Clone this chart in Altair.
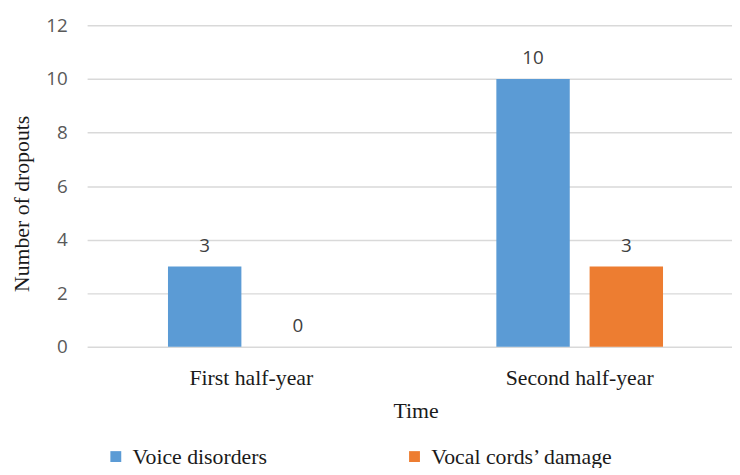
import altair as alt
import pandas as pd

periods = ["First half-year", "Second half-year"]
series = ["Voice disorders", "Vocal cords\u2019 damage"]
voice = [3, 10]
cords = [0, 3]
colors = ["#5B9BD5", "#ED7D31"]

rows = []
for i, p in enumerate(periods):
    rows.append({"Time": p, "Series": series[0], "Value": voice[i]})
    rows.append({"Time": p, "Series": series[1], "Value": cords[i]})
df = pd.DataFrame(rows)

serif = "Liberation Serif"
sans = "Open Sans"

base = alt.Chart(df).encode(
    x=alt.X("Time:N", sort=periods,
            scale=alt.Scale(paddingInner=0, paddingOuter=0, range=[0, 664]),
            axis=alt.Axis(title="Time", labelAngle=0, labelFont=serif, labelFontSize=22,
                          labelColor="#1a1a1a", labelPadding=21, titleFont=serif,
                          titleFontSize=22, titleFontWeight="normal", titleColor="#1a1a1a",
                          titlePadding=12, ticks=False, domain=False, grid=False)),
    xOffset=alt.XOffset("Series:N", sort=series,
                        scale=alt.Scale(paddingInner=0.2128, paddingOuter=0.867)),
)

bars = base.mark_bar().encode(
    y=alt.Y("Value:Q", scale=alt.Scale(domain=[0, 12]),
            axis=alt.Axis(title="Number of dropouts", values=[0, 2, 4, 6, 8, 10, 12],
                          labelFont=sans, labelFontSize=19, labelColor="#595959",
                          labelPadding=20, titleFont=serif, titleFontSize=22,
                          titleFontWeight="normal", titleColor="#1a1a1a",
                          titleX=-66, titleY=180, titleAngle=270, titleAlign="center",
                          titleBaseline="middle",
                          gridColor="#d9d9d9", gridWidth=1.5, ticks=False, domain=False)),
    color=alt.Color("Series:N", sort=series,
                    scale=alt.Scale(domain=series, range=colors),
                    legend=alt.Legend(title=None, orient="none", direction="horizontal",
                                      legendX=18, legendY=425, symbolType="square",
                                      symbolSize=121, symbolStrokeWidth=0, labelFont=serif,
                                      labelFontSize=22, labelColor="#1a1a1a",
                                      labelLimit=400, columnPadding=138, labelOffset=6)),
)

labels = base.mark_text(dy=-15, baseline="alphabetic", font=sans, fontSize=19,
                        color="#404040").encode(
    y=alt.Y("Value:Q"),
    text=alt.Text("Value:Q"),
)

chart = (bars + labels).properties(
    width=650, height=325,
    autosize=alt.AutoSizeParams(type="none"),
    padding={"left": 80, "top": 15, "right": 2, "bottom": 120},
).configure_view(stroke=None)

chart.save("out.html", embed_options={"renderer": "svg", "actions": False})
